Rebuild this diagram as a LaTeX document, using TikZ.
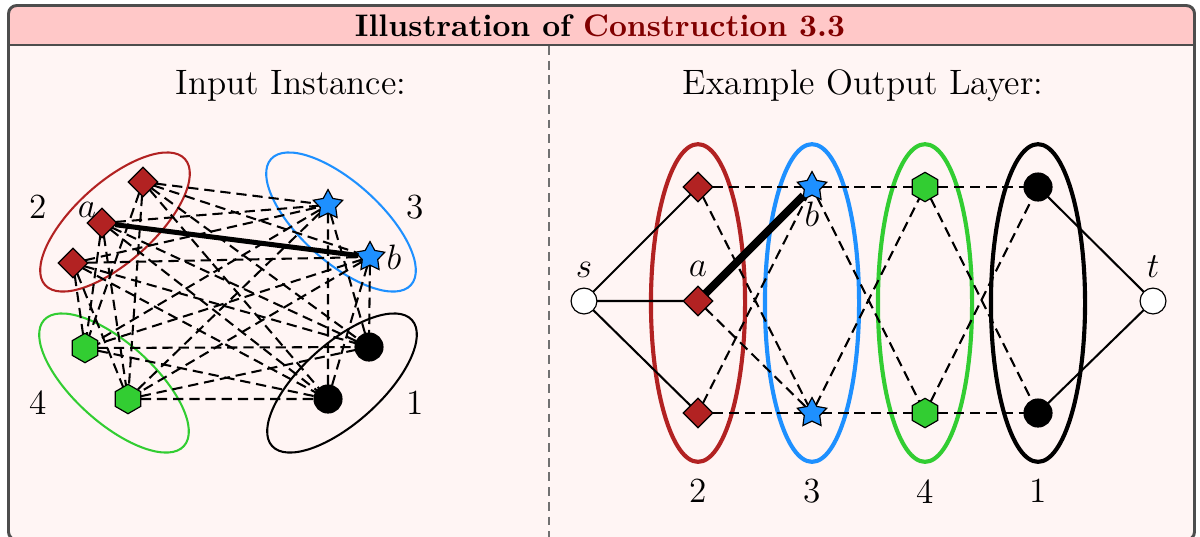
\documentclass[tikz,border=0pt]{standalone}
\usepackage{tikz}
\usetikzlibrary{positioning,shapes.geometric,calc}
\definecolor{FrameGray}{RGB}{77,77,77}
\definecolor{TitlePink}{RGB}{255,200,200}
\definecolor{BodyPink}{RGB}{255,245,244}
\definecolor{TitleRed}{RGB}{128,0,0}
\definecolor{GrpRed}{RGB}{178,34,34}
\definecolor{GrpBlue}{RGB}{30,144,255}
\definecolor{GrpGreen}{RGB}{50,205,50}

\begin{document}
\begin{tikzpicture}[
    x=0.34pt, y=-0.34pt,
    gnode/.style={inner sep=0pt, outer sep=0pt, draw=black, line width=0.4pt},
    rednode/.style={gnode, diamond, fill=GrpRed, minimum size=10pt},
    bluenode/.style={gnode, star, star points=5, star point ratio=1.9, fill=GrpBlue, minimum size=10.5pt},
    greennode/.style={gnode, regular polygon, regular polygon sides=6, shape border rotate=30, fill=GrpGreen, minimum size=10pt},
    blacknode/.style={gnode, circle, fill=black, minimum size=9.5pt},
    endnode/.style={gnode, circle, fill=white, minimum size=8.8pt},
    inset/.style={ellipse, draw, inner sep=0pt, line width=0.7pt, minimum width=64pt, minimum height=27pt},
    outset/.style={ellipse, draw, inner sep=0pt, line width=1.4pt, minimum width=32pt, minimum height=108pt},
    cand/.style={draw, line width=0.7pt, dash pattern=on 3.5pt off 2pt},
    link/.style={draw, line width=0.7pt},
    lbl/.style={font=\large, inner sep=1pt},
    grpnum/.style={font=\large, inner sep=1pt},
    heading/.style={font=\large}
]
\useasboundingbox (0,0) rectangle (1200,536);
\fill[BodyPink, rounded corners=2.8pt] (8.5,5.5) rectangle (1194.5,540);
\begin{scope}
\clip[rounded corners=2.8pt] (8.5,5.5) rectangle (1194.5,540);
\fill[TitlePink] (8.5,5.5) rectangle (1194.5,45);
\end{scope}
\draw[FrameGray, line width=1pt, rounded corners=2.8pt] (8.5,5.5) rectangle (1194.5,540);
\draw[FrameGray, line width=1pt] (8.5,45) -- (1194.5,45);
\draw[FrameGray!80, line width=0.5pt, dash pattern=on 3pt off 2pt] (549,46) -- (549,540);

\node[font=\fontsize{10.6}{13}\selectfont\bfseries] (title) at (600,26) {Illustration of \textcolor{TitleRed}{Construction 3.3}};
\node[heading] (inhead) at (291,86) {Input Instance:};
\node[heading] (outhead) at (863,86) {Example Output Layer:};

\node[inset, draw=GrpRed, rotate=42] (e2) at (115,222) {};
\node[inset, draw=GrpBlue, rotate=-42] (e3) at (341,222) {};
\node[inset, draw=GrpGreen, rotate=-42] (e4) at (114,383) {};
\node[inset, draw=black, rotate=42] (e1) at (342,383) {};

\node[rednode] (u2a) at (143,182) {};
\node[rednode] (u2b) at (102,223) {};
\node[rednode] (u2c) at (73,263) {};
\node[bluenode] (u3a) at (328,205) {};
\node[bluenode] (u3b) at (370,257) {};
\node[greennode] (u4a) at (85,348) {};
\node[greennode] (u4b) at (128,399) {};
\node[blacknode] (u1a) at (369,347) {};
\node[blacknode] (u1b) at (328,399) {};

\draw[cand] (u2a) -- (u3a) (u2a) -- (u3b) (u2b) -- (u3a) (u2c) -- (u3a) (u2c) -- (u3b);
\draw[cand] (u2a) -- (u4a) (u2a) -- (u4b) (u2b) -- (u4a) (u2b) -- (u4b) (u2c) -- (u4a) (u2c) -- (u4b);
\draw[cand] (u2a) -- (u1a) (u2a) -- (u1b) (u2b) -- (u1a) (u2b) -- (u1b) (u2c) -- (u1a) (u2c) -- (u1b);
\draw[cand] (u3a) -- (u4a) (u3a) -- (u4b) (u3b) -- (u4a) (u3b) -- (u4b);
\draw[cand] (u3a) -- (u1a) (u3a) -- (u1b) (u3b) -- (u1a) (u3b) -- (u1b);
\draw[cand] (u4a) -- (u1a) (u4a) -- (u1b) (u4b) -- (u1a) (u4b) -- (u1b);
\draw[line width=1.7pt] (u2b) -- (u3b);

\node[lbl] at (87,210) {$a$};
\node[lbl, right=1pt of u3b] {$b$};
\node[grpnum] (n2) at (38,207) {2};
\node[grpnum] (n3) at (415,207) {3};
\node[grpnum] (n4) at (38,403) {4};
\node[grpnum] (n1) at (415,403) {1};

\node[outset, draw=GrpRed] (f2) at (698,303) {};
\node[outset, draw=GrpBlue] (f3) at (812,303) {};
\node[outset, draw=GrpGreen] (f4) at (925,303) {};
\node[outset, draw=black] (f1) at (1038,303) {};

\node[endnode] (s) at (584,301) {};
\node[endnode] (t) at (1153,301) {};
\node[rednode] (v2a) at (698,187) {};
\node[rednode] (v2b) at (698,301) {};
\node[rednode] (v2c) at (698,413) {};
\node[bluenode] (v3a) at (812,187) {};
\node[bluenode] (v3b) at (812,413) {};
\node[greennode] (v4a) at (925,187) {};
\node[greennode] (v4b) at (925,413) {};
\node[blacknode] (v1a) at (1038,187) {};
\node[blacknode] (v1b) at (1038,413) {};

\draw[link] (s) -- (v2a) (s) -- (v2b) (s) -- (v2c) (v1a) -- (t) (v1b) -- (t);
\draw[cand] (v2a) -- (v3a) (v3a) -- (v4a) (v4a) -- (v1a);
\draw[cand] (v2c) -- (v3b) (v3b) -- (v4b) (v4b) -- (v1b);
\draw[cand] (v2a) -- (v3b) (v2b) -- (v3b) (v2c) -- (v3a);
\draw[cand] (v3a) -- (v4b) (v3b) -- (v4a) (v4a) -- (v1b) (v4b) -- (v1a);
\draw[line width=2.7pt] (v2b) -- (v3a);

\node[lbl, above=2.5pt of s] {$s$};
\node[lbl, above=2.5pt of t] {$t$};
\node[lbl, above=2pt of v2b] {$a$};
\node[lbl, below=1pt of v3a] {$b$};
\node[grpnum, below=4pt of f2] {2};
\node[grpnum, below=4pt of f3] {3};
\node[grpnum, below=4pt of f4] {4};
\node[grpnum, below=4pt of f1] {1};
\end{tikzpicture}
\end{document}
